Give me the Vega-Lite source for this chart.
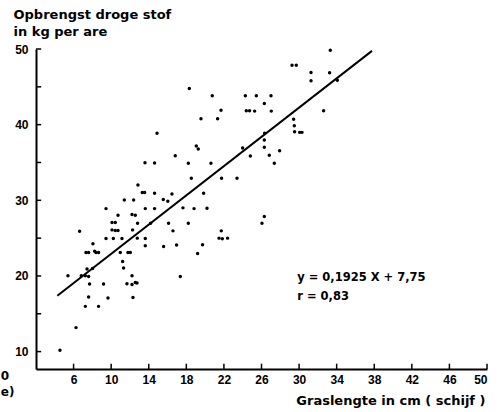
{
  "$schema": "https://vega.github.io/schema/vega-lite/v6.json",
  "width": 451,
  "height": 320,
  "autosize": {"type": "none"},
  "padding": {"left": 36, "top": 49, "right": 14, "bottom": 43},
  "background": "white",
  "config": {
    "view": {"stroke": null},
    "axis": {
      "domainColor": "black",
      "domainWidth": 2,
      "ticks": false,
      "grid": false,
      "labelColor": "black",
      "labelFont": "Liberation Sans",
      "labelFontWeight": "bold",
      "labelFontSize": 12,
      "titleColor": "black",
      "titleFont": "DejaVu Sans",
      "titleFontWeight": "bold",
      "titleFontSize": 13
    }
  },
  "datasets": {
    "points": [
      {"x": 12.85, "y": 32.03}, {"x": 13.31, "y": 31.02}, {"x": 13.56, "y": 31.02}, {"x": 14.62, "y": 30.94},
      {"x": 11.40, "y": 30.05}, {"x": 12.39, "y": 30.05}, {"x": 15.55, "y": 30.12}, {"x": 16.03, "y": 29.88},
      {"x": 9.45, "y": 28.90}, {"x": 13.63, "y": 28.90}, {"x": 14.62, "y": 28.90}, {"x": 10.73, "y": 28.03},
      {"x": 12.22, "y": 28.11}, {"x": 12.57, "y": 28.03}, {"x": 10.09, "y": 27.06}, {"x": 10.44, "y": 27.06},
      {"x": 12.81, "y": 26.98}, {"x": 14.20, "y": 26.98}, {"x": 16.11, "y": 26.98}, {"x": 6.64, "y": 25.92},
      {"x": 10.09, "y": 26.09}, {"x": 10.44, "y": 26.00}, {"x": 10.73, "y": 26.00}, {"x": 12.28, "y": 26.09},
      {"x": 9.45, "y": 24.95}, {"x": 10.23, "y": 24.95}, {"x": 11.15, "y": 24.95}, {"x": 12.78, "y": 25.00},
      {"x": 13.63, "y": 24.95}, {"x": 8.06, "y": 24.25}, {"x": 13.63, "y": 23.98}, {"x": 15.58, "y": 23.89},
      {"x": 7.32, "y": 23.10}, {"x": 7.60, "y": 23.10}, {"x": 8.24, "y": 23.28}, {"x": 8.38, "y": 23.10},
      {"x": 8.66, "y": 23.10}, {"x": 10.97, "y": 23.10}, {"x": 11.79, "y": 23.10}, {"x": 12.04, "y": 23.10},
      {"x": 11.22, "y": 21.91}, {"x": 11.32, "y": 21.04}, {"x": 7.43, "y": 20.91}, {"x": 8.02, "y": 20.99},
      {"x": 5.40, "y": 20.03}, {"x": 6.82, "y": 20.03}, {"x": 7.25, "y": 20.03}, {"x": 7.60, "y": 19.93},
      {"x": 12.22, "y": 20.03}, {"x": 7.70, "y": 18.93}, {"x": 9.19, "y": 18.93}, {"x": 11.68, "y": 18.97},
      {"x": 12.22, "y": 18.88}, {"x": 12.57, "y": 19.14}, {"x": 12.75, "y": 19.06}, {"x": 7.60, "y": 17.22},
      {"x": 9.66, "y": 17.08}, {"x": 12.32, "y": 17.16}, {"x": 7.25, "y": 15.98}, {"x": 8.66, "y": 15.98},
      {"x": 6.26, "y": 13.17}, {"x": 4.55, "y": 10.17},
      {"x": 18.21, "y": 34.89}, {"x": 20.62, "y": 34.89}, {"x": 27.36, "y": 34.89}, {"x": 18.53, "y": 32.92},
      {"x": 21.75, "y": 32.92}, {"x": 23.39, "y": 32.92}, {"x": 16.47, "y": 30.84}, {"x": 19.84, "y": 30.94},
      {"x": 17.64, "y": 29.00}, {"x": 18.82, "y": 28.90}, {"x": 20.20, "y": 28.96}, {"x": 18.21, "y": 26.98},
      {"x": 26.30, "y": 27.85}, {"x": 26.05, "y": 26.98}, {"x": 16.58, "y": 25.96}, {"x": 21.72, "y": 25.96},
      {"x": 21.48, "y": 25.00}, {"x": 21.83, "y": 24.91}, {"x": 22.39, "y": 25.00}, {"x": 16.96, "y": 24.08},
      {"x": 19.73, "y": 24.12}, {"x": 19.20, "y": 22.97}, {"x": 17.36, "y": 19.93},
      {"x": 18.32, "y": 44.79}, {"x": 20.76, "y": 43.81}, {"x": 21.69, "y": 41.89}, {"x": 19.56, "y": 40.78},
      {"x": 21.33, "y": 40.78}, {"x": 14.88, "y": 38.85}, {"x": 19.06, "y": 37.18}, {"x": 19.27, "y": 36.78},
      {"x": 16.82, "y": 35.90}, {"x": 13.60, "y": 34.97}, {"x": 14.62, "y": 34.93},
      {"x": 33.32, "y": 49.84}, {"x": 29.25, "y": 47.86}, {"x": 29.70, "y": 47.86}, {"x": 31.27, "y": 46.90},
      {"x": 33.25, "y": 46.85}, {"x": 31.27, "y": 45.79}, {"x": 34.07, "y": 45.88}, {"x": 24.28, "y": 43.81},
      {"x": 25.45, "y": 43.81}, {"x": 27.01, "y": 43.81}, {"x": 26.30, "y": 42.81}, {"x": 24.38, "y": 41.83},
      {"x": 24.73, "y": 41.83}, {"x": 25.27, "y": 41.79}, {"x": 27.04, "y": 41.79}, {"x": 32.61, "y": 41.83},
      {"x": 29.42, "y": 40.70}, {"x": 29.49, "y": 39.85}, {"x": 29.52, "y": 39.06}, {"x": 30.06, "y": 38.98},
      {"x": 30.31, "y": 38.98}, {"x": 26.33, "y": 38.85}, {"x": 26.30, "y": 37.97}, {"x": 23.99, "y": 36.91},
      {"x": 26.30, "y": 37.01}, {"x": 24.81, "y": 35.86}, {"x": 26.83, "y": 35.95}, {"x": 27.93, "y": 36.56}
    ],
    "fit": [
      {"x": 4.27, "y": 17.39},
      {"x": 37.76, "y": 49.75}
    ],
    "xticks": [
      {"x": 6}, {"x": 10}, {"x": 14}, {"x": 18}, {"x": 22}, {"x": 26},
      {"x": 30}, {"x": 34}, {"x": 38}, {"x": 42}, {"x": 46}, {"x": 50}
    ],
    "yticks": [
      {"y": 10}, {"y": 15}, {"y": 20}, {"y": 25}, {"y": 30},
      {"y": 35}, {"y": 40}, {"y": 45}, {"y": 50}
    ],
    "notes": [
      {"x": 29.8, "y": 19.76, "label": "y = 0,1925 X + 7,75"},
      {"x": 29.8, "y": 17.26, "label": "r = 0,83"}
    ],
    "fragments": [
      {"x": -1.75, "y": 6.84, "label": "0"},
      {"x": -1.75, "y": 4.66, "label": "e)"}
    ]
  },
  "layer": [
    {
      "data": {"name": "points"},
      "mark": {"type": "circle", "size": 12, "color": "black", "opacity": 1},
      "encoding": {
        "x": {
          "field": "x", "type": "quantitative",
          "scale": {"domain": [2, 50], "nice": false, "zero": false},
          "axis": {
            "values": [6, 10, 14, 18, 22, 26, 30, 34, 38, 42, 46, 50],
            "labelPadding": 5,
            "title": "Graslengte in cm ( schijf )",
            "titleAlign": "right",
            "titleAnchor": "end",
            "titleX": 449,
            "titleY": 35,
            "titleBaseline": "alphabetic"
          }
        },
        "y": {
          "field": "y", "type": "quantitative",
          "scale": {"domain": [7.7, 50], "nice": false, "zero": false},
          "axis": {
            "values": [10, 15, 20, 25, 30, 35, 40, 45, 50],
            "labelPadding": 8,
            "title": ["Opbrengst droge stof", "in kg per are"],
            "titleAngle": 0,
            "titleAlign": "left",
            "titleAnchor": "end",
            "titleBaseline": "alphabetic",
            "titleLineHeight": 17,
            "titleX": -23,
            "titleY": -31
          }
        }
      }
    },
    {
      "data": {"name": "xticks"},
      "mark": {"type": "rule", "color": "black", "strokeWidth": 1.5},
      "encoding": {
        "x": {"field": "x", "type": "quantitative"},
        "y": {"datum": 7.7},
        "y2": {"datum": 8.4}
      }
    },
    {
      "data": {"name": "yticks"},
      "mark": {"type": "rule", "color": "black", "strokeWidth": 1.5},
      "encoding": {
        "y": {"field": "y", "type": "quantitative"},
        "x": {"datum": 2},
        "x2": {"datum": 2.55}
      }
    },
    {
      "data": {"name": "fit"},
      "mark": {"type": "line", "color": "black", "strokeWidth": 2},
      "encoding": {
        "x": {"field": "x", "type": "quantitative"},
        "y": {"field": "y", "type": "quantitative"}
      }
    },
    {
      "data": {"name": "notes"},
      "mark": {"type": "text", "align": "left", "baseline": "middle", "font": "DejaVu Sans", "fontWeight": "bold", "fontSize": 11.5, "color": "black"},
      "encoding": {
        "x": {"field": "x", "type": "quantitative"},
        "y": {"field": "y", "type": "quantitative"},
        "text": {"field": "label"}
      }
    },
    {
      "data": {"name": "fragments"},
      "mark": {"type": "text", "align": "left", "baseline": "middle", "font": "DejaVu Sans", "fontWeight": "bold", "fontSize": 12, "color": "black"},
      "encoding": {
        "x": {"field": "x", "type": "quantitative"},
        "y": {"field": "y", "type": "quantitative"},
        "text": {"field": "label"}
      }
    }
  ]
}
